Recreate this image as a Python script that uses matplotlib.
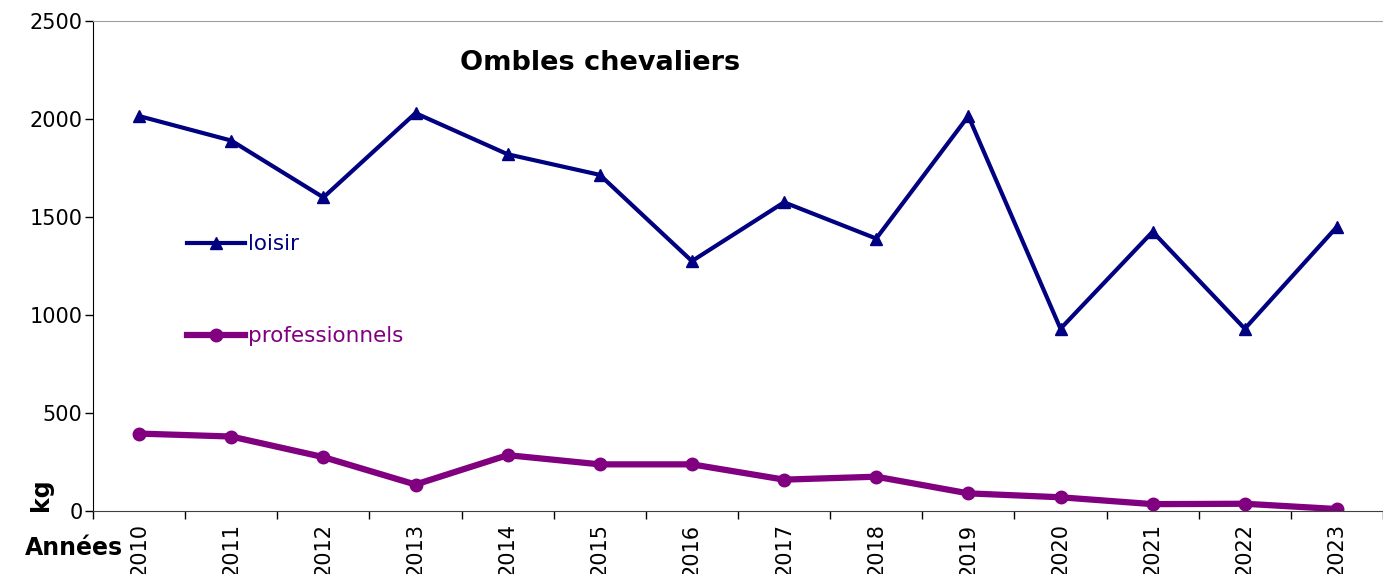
import matplotlib.pyplot as plt
import numpy as np

plt.rcParams['font.family'] = ['DejaVu Sans']

# data (kg per year)
annees = ['2010', '2011', '2012', '2013', '2014', '2015', '2016',
          '2017', '2018', '2019', '2020', '2021', '2022', '2023']
loisir = [2015, 1890, 1600, 2030, 1820, 1715, 1275,
          1575, 1390, 2015, 930, 1425, 930, 1450]
professionnels = [395, 380, 275, 135, 285, 238, 238,
                  160, 175, 90, 70, 35, 37, 10]

navy = '#000080'
purple = '#800080'

fig = plt.figure(figsize=(13.83, 5.74), dpi=100)
ax = fig.add_axes([93/1383, 63/574, 1290/1383, 490/574])

x = np.arange(len(annees))
ax.plot(x, loisir, color=navy, lw=3, marker='^', ms=9, label='loisir')
ax.plot(x, professionnels, color=purple, lw=4.5, marker='o', ms=9,
        label='professionnels')

ax.set_ylim(0, 2500)
ax.set_yticks(range(0, 2501, 500))
ax.set_xlim(-0.5, -0.5 + 1290/92.6)

# ticks between categories, labels centred under them
ax.set_xticks(np.arange(-0.5, len(annees), 1.0))
ax.set_xticklabels([])
ax.set_xticks(x, minor=True)
ax.set_xticklabels(annees, minor=True, rotation=90, fontsize=15)
ax.tick_params(axis='x', which='minor', length=0, pad=9)
ax.tick_params(axis='x', which='major', direction='out', length=6, width=1)
ax.tick_params(axis='y', direction='out', length=6, width=1, labelsize=15, pad=1.5)

ax.spines['right'].set_visible(False)
ax.spines['top'].set_color('#a0a0a0')
ax.spines['left'].set_color('black')
ax.spines['bottom'].set_color('#404040')

leg = ax.legend(loc='upper left', bbox_to_anchor=(94/1290, 0.565), frameon=False,
                fontsize=15.5, handlelength=2.7, handletextpad=0.15,
                labelspacing=3.35, borderpad=0, borderaxespad=0,
                labelcolor='linecolor')

fig.text(600/1383, 1 - 63/574, 'Ombles chevaliers', fontsize=19.5,
         fontweight='bold', ha='center', va='center')
fig.text(25/1383, 1 - 548/574, 'Années', fontsize=17, fontweight='bold',
         ha='left', va='center')
fig.text(41/1383, 1 - 495/574, 'kg', fontsize=17, fontweight='bold',
         rotation=90, ha='center', va='center')

plt.savefig('out.png', dpi=100)
